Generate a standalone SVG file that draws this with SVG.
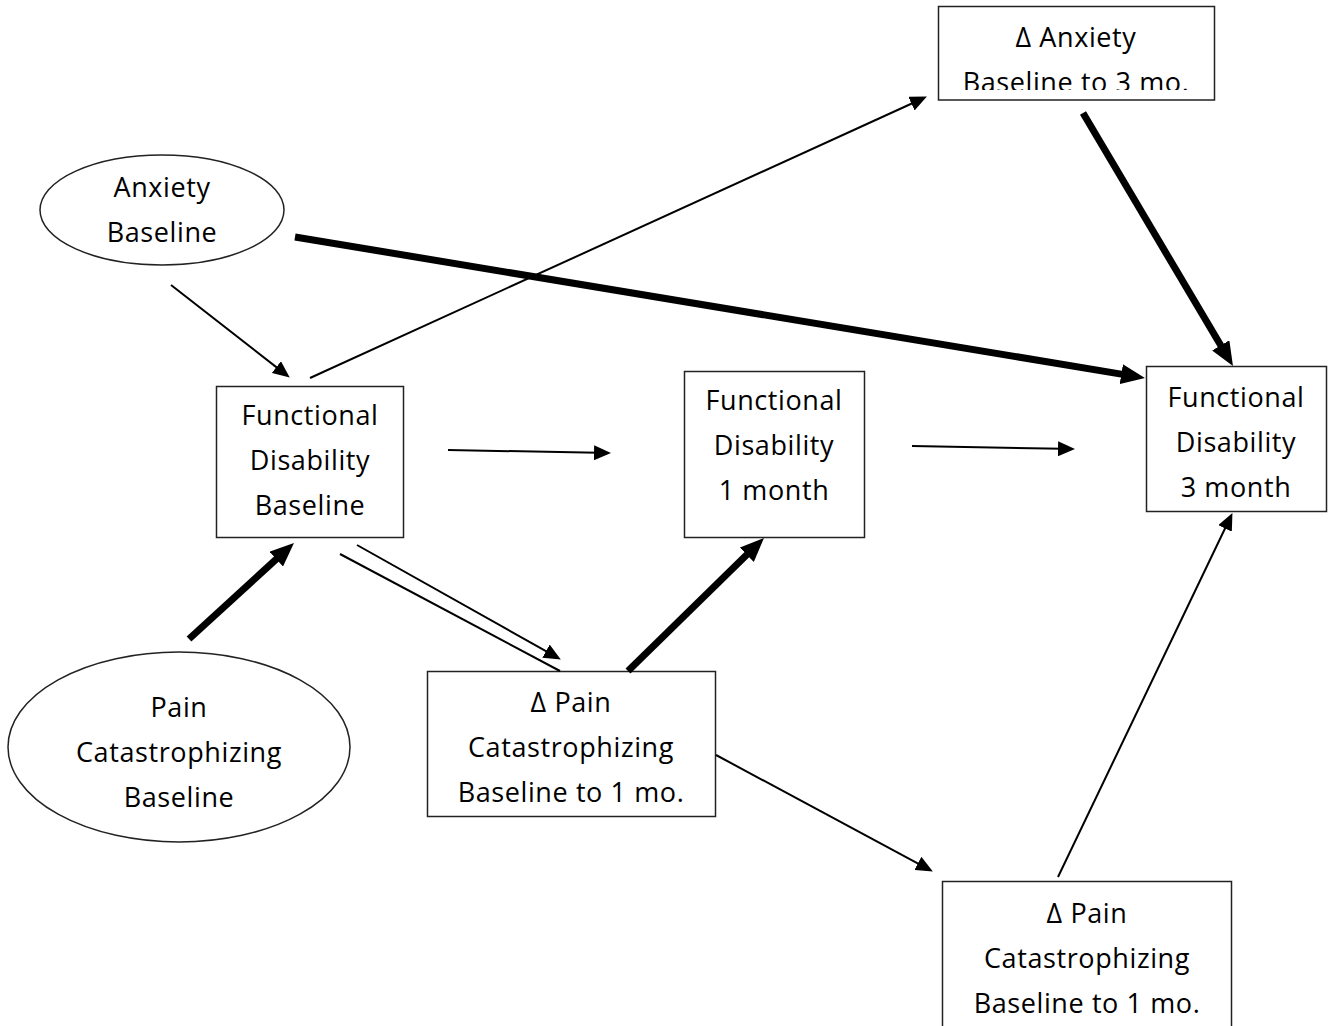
<svg xmlns="http://www.w3.org/2000/svg" width="1334" height="1026" viewBox="0 0 1334 1026">
<style>
.box{fill:#fff;stroke:#222;stroke-width:1.5}
.lbl{font-family:"Open Sans","Noto Sans",sans-serif;font-size:27px;letter-spacing:0.6px;fill:#000;text-anchor:middle}
.thin{stroke:#000;stroke-width:2;fill:none}
.thick{stroke:#000;stroke-width:7;fill:none}
</style>
<defs>
<marker id="ah" markerUnits="userSpaceOnUse" markerWidth="17" markerHeight="15" refX="4" refY="7.5" orient="auto"><path d="M0,0 L17,7.5 L0,15 z" fill="#000"/></marker>
<marker id="ahT" markerUnits="userSpaceOnUse" markerWidth="24" markerHeight="20" refX="6" refY="10" orient="auto"><path d="M0,0 L24,10 L0,20 z" fill="#000"/></marker>
<clipPath id="clipAnx"><rect x="938" y="6" width="277" height="84"/></clipPath>
</defs>
<rect width="1334" height="1026" fill="#fff"/>

<g id="anxiety-baseline">
<ellipse class="box" cx="162" cy="210" rx="122" ry="55"/>
<text class="lbl" x="162" y="197">Anxiety</text>
<text class="lbl" x="162" y="242">Baseline</text>
</g>

<g id="delta-anxiety">
<rect class="box" x="938.5" y="6.5" width="276" height="93.5"/>
<g clip-path="url(#clipAnx)">
<text class="lbl" x="1076" y="47">Δ Anxiety</text>
<text class="lbl" x="1076" y="92">Baseline to 3 mo.</text>
</g>
</g>

<g id="fd-baseline">
<rect class="box" x="216.5" y="386.5" width="187" height="151"/>
<text class="lbl" x="310" y="425">Functional</text>
<text class="lbl" x="310" y="470">Disability</text>
<text class="lbl" x="310" y="515">Baseline</text>
</g>

<g id="fd-1month">
<rect class="box" x="684.5" y="371.5" width="180" height="166"/>
<text class="lbl" x="774" y="410">Functional</text>
<text class="lbl" x="774" y="455">Disability</text>
<text class="lbl" x="774" y="500">1 month</text>
</g>

<g id="fd-3month">
<rect class="box" x="1146.5" y="366.5" width="180" height="145"/>
<text class="lbl" x="1236" y="407">Functional</text>
<text class="lbl" x="1236" y="452">Disability</text>
<text class="lbl" x="1236" y="497">3 month</text>
</g>

<g id="pain-cat-baseline">
<ellipse class="box" cx="179" cy="747" rx="171" ry="95"/>
<text class="lbl" x="179" y="717">Pain</text>
<text class="lbl" x="179" y="762">Catastrophizing</text>
<text class="lbl" x="179" y="807">Baseline</text>
</g>

<g id="delta-pain-1">
<rect class="box" x="427.5" y="671.5" width="288" height="145"/>
<text class="lbl" x="571" y="712">Δ Pain</text>
<text class="lbl" x="571" y="757">Catastrophizing</text>
<text class="lbl" x="571" y="802">Baseline to 1 mo.</text>
</g>

<g id="delta-pain-2">
<rect class="box" x="942.5" y="881.5" width="289" height="160"/>
<text class="lbl" x="1087" y="923">Δ Pain</text>
<text class="lbl" x="1087" y="968">Catastrophizing</text>
<text class="lbl" x="1087" y="1013">Baseline to 1 mo.</text>
</g>

<g id="connectors">
<line class="thin" x1="171" y1="285" x2="279.5" y2="369.6" marker-end="url(#ah)"/>
<line class="thin" x1="310" y1="378" x2="915.1" y2="102" marker-end="url(#ah)"/>
<line class="thick" x1="295" y1="237" x2="1127.2" y2="375.1" marker-end="url(#ahT)"/>
<line class="thick" x1="1083" y1="113" x2="1223.8" y2="350.5" marker-end="url(#ahT)"/>
<line class="thin" x1="448" y1="450" x2="598" y2="452.8" marker-end="url(#ah)"/>
<line class="thin" x1="912" y1="446" x2="1062" y2="448.8" marker-end="url(#ah)"/>
<line class="thick" x1="189" y1="639" x2="280.7" y2="555.1" marker-end="url(#ahT)"/>
<line class="thin" x1="357" y1="545" x2="549.5" y2="653.1" marker-end="url(#ah)"/>
<line class="thin" x1="340" y1="554" x2="560" y2="671"/>
<line class="thick" x1="628" y1="671" x2="751.1" y2="550.6" marker-end="url(#ahT)"/>
<line class="thin" x1="716" y1="755" x2="921.4" y2="865.3" marker-end="url(#ah)"/>
<line class="thin" x1="1058" y1="877" x2="1226.8" y2="524.8" marker-end="url(#ah)"/>
</g>
</svg>
